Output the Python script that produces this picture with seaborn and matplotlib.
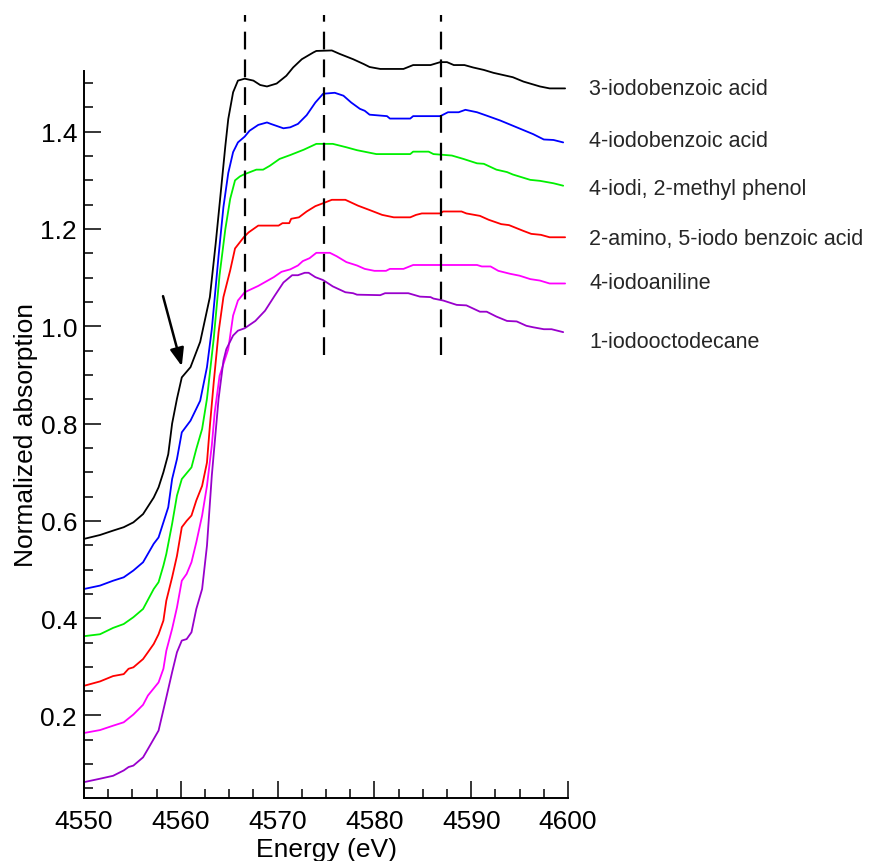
import matplotlib
matplotlib.use("Agg")
import matplotlib.pyplot as plt
from matplotlib.ticker import MultipleLocator
import numpy as np
import pandas as pd
import seaborn as sns

# ---- spectra (energy in eV, normalized absorption) ----
compounds = [
    "3-iodobenzoic acid",
    "4-iodobenzoic acid",
    "4-iodi, 2-methyl phenol",
    "2-amino, 5-iodo benzoic acid",
    "4-iodoaniline",
    "1-iodooctodecane",
]
colors = ["#000000", "#0000FF", "#00F000", "#FF0000", "#FF00FF", "#9900CC"]

e_3iba = [4550.0, 4551.65, 4553.0, 4554.1, 4555.1, 4556.1, 4557.2, 4557.7, 4558.2, 4558.7,
          4559.1, 4559.6, 4560.1, 4561.0, 4562.0, 4563.0, 4563.6, 4564.0, 4564.6, 4564.9,
          4565.4, 4565.9, 4566.6, 4567.5, 4568.2, 4568.9, 4569.9, 4570.9, 4571.6, 4572.5,
          4573.7, 4574.0, 4575.6, 4576.4, 4577.8, 4578.9, 4579.5, 4580.6, 4583.0, 4584.0,
          4585.8, 4586.8, 4587.5, 4588.2, 4589.3, 4590.2, 4591.3, 4592.3, 4594.3, 4595.4,
          4597.1, 4598.1, 4599.7]
a_3iba = [0.563, 0.571, 0.580, 0.587, 0.597, 0.614, 0.648, 0.669, 0.700, 0.737,
          0.800, 0.851, 0.895, 0.916, 0.968, 1.060, 1.170, 1.250, 1.371, 1.426,
          1.481, 1.505, 1.509, 1.505, 1.496, 1.493, 1.499, 1.515, 1.532, 1.549,
          1.563, 1.566, 1.567, 1.560, 1.549, 1.539, 1.533, 1.529, 1.529, 1.537,
          1.537, 1.543, 1.543, 1.537, 1.537, 1.532, 1.527, 1.521, 1.512, 1.503,
          1.493, 1.489, 1.489]

e_4iba = [4550.0, 4551.65, 4553.0, 4554.1, 4555.1, 4556.1, 4557.2, 4557.7, 4558.2, 4558.7,
          4559.1, 4559.6, 4560.1, 4561.0, 4562.0, 4562.7, 4563.2, 4563.9, 4564.4, 4564.9,
          4565.4, 4565.9, 4566.6, 4567.1, 4568.0, 4568.9, 4569.3, 4570.6, 4571.3, 4572.1,
          4573.0, 4573.9, 4574.7, 4575.9, 4576.8, 4577.6, 4578.5, 4579.0, 4579.5, 4581.3,
          4581.6, 4583.7, 4584.0, 4586.8, 4587.6, 4588.7, 4589.4, 4590.6, 4591.6, 4593.0,
          4594.7, 4596.4, 4597.5, 4598.5, 4599.5]
a_4iba = [0.460, 0.467, 0.477, 0.484, 0.498, 0.515, 0.553, 0.566, 0.597, 0.628,
          0.686, 0.727, 0.782, 0.806, 0.847, 0.916, 0.994, 1.145, 1.245, 1.315,
          1.358, 1.378, 1.390, 1.402, 1.414, 1.419, 1.416, 1.407, 1.409, 1.416,
          1.434, 1.460, 1.478, 1.480, 1.474, 1.460, 1.447, 1.443, 1.435, 1.432,
          1.427, 1.427, 1.432, 1.432, 1.440, 1.440, 1.445, 1.440, 1.433, 1.423,
          1.409, 1.395, 1.384, 1.383, 1.378]

e_imp = [4550.0, 4551.65, 4553.0, 4554.1, 4555.1, 4556.1, 4557.2, 4557.7, 4558.2, 4558.5,
         4559.1, 4559.6, 4560.1, 4561.1, 4561.6, 4562.2, 4562.7, 4563.4, 4564.0, 4564.6,
         4565.1, 4565.6, 4566.1, 4566.5, 4567.8, 4568.5, 4569.2, 4570.2, 4571.3, 4572.7,
         4574.0, 4575.7, 4577.1, 4578.2, 4579.2, 4580.2, 4583.7, 4584.0, 4585.6, 4586.1,
         4588.0, 4589.2, 4590.6, 4591.3, 4592.6, 4593.7, 4594.3, 4596.1, 4597.1, 4598.5,
         4599.5]
a_imp = [0.363, 0.367, 0.380, 0.388, 0.402, 0.419, 0.460, 0.474, 0.508, 0.532,
         0.594, 0.652, 0.686, 0.710, 0.748, 0.789, 0.851, 0.975, 1.105, 1.200,
         1.262, 1.300, 1.308, 1.312, 1.322, 1.322, 1.330, 1.344, 1.352, 1.363,
         1.375, 1.375, 1.368, 1.362, 1.358, 1.354, 1.354, 1.359, 1.359, 1.354,
         1.351, 1.344, 1.335, 1.334, 1.322, 1.317, 1.312, 1.301, 1.299, 1.294,
         1.289]

e_aiba = [4550.0, 4551.65, 4553.0, 4554.1, 4554.6, 4555.1, 4556.1, 4556.6, 4557.2, 4557.7,
          4558.2, 4558.5, 4559.1, 4559.6, 4560.1, 4560.6, 4561.1, 4561.6, 4562.2, 4562.7,
          4563.0, 4563.4, 4563.9, 4564.4, 4565.1, 4565.6, 4566.5, 4567.0, 4568.0, 4570.1,
          4570.5, 4571.2, 4571.4, 4572.2, 4573.0, 4573.9, 4574.7, 4575.6, 4577.0, 4578.3,
          4579.5, 4580.8, 4582.0, 4583.7, 4584.3, 4584.9, 4586.8, 4587.1, 4589.0, 4589.5,
          4590.9, 4591.8, 4593.1, 4593.9, 4595.4, 4596.2, 4597.2, 4598.1, 4599.7]
a_aiba = [0.261, 0.270, 0.281, 0.285, 0.296, 0.299, 0.316, 0.330, 0.347, 0.367,
          0.395, 0.436, 0.484, 0.528, 0.587, 0.600, 0.611, 0.642, 0.672, 0.720,
          0.795, 0.885, 0.988, 1.060, 1.115, 1.160, 1.183, 1.193, 1.207, 1.207,
          1.212, 1.212, 1.221, 1.224, 1.236, 1.247, 1.253, 1.260, 1.260, 1.248,
          1.239, 1.229, 1.224, 1.224, 1.229, 1.232, 1.232, 1.236, 1.236, 1.232,
          1.227, 1.219, 1.210, 1.208, 1.196, 1.190, 1.188, 1.183, 1.183]

e_ian = [4550.0, 4551.65, 4553.0, 4554.1, 4555.1, 4556.1, 4556.6, 4557.7, 4558.2, 4558.5,
         4559.1, 4559.6, 4560.1, 4560.6, 4561.1, 4561.6, 4562.2, 4562.7, 4563.2, 4563.5,
         4564.0, 4564.9, 4565.4, 4565.9, 4566.6, 4568.0, 4569.6, 4570.4, 4571.3, 4572.1,
         4572.6, 4573.3, 4574.0, 4575.4, 4576.1, 4577.1, 4578.2, 4579.0, 4580.0, 4581.2,
         4581.6, 4583.0, 4584.0, 4586.8, 4590.6, 4591.1, 4592.0, 4592.8, 4594.0, 4595.0,
         4596.1, 4597.1, 4598.1, 4599.7]
a_ian = [0.164, 0.170, 0.179, 0.186, 0.202, 0.222, 0.241, 0.268, 0.296, 0.333,
         0.378, 0.422, 0.477, 0.491, 0.515, 0.556, 0.611, 0.672, 0.755, 0.823,
         0.898, 0.953, 1.022, 1.053, 1.070, 1.083, 1.101, 1.112, 1.117, 1.125,
         1.134, 1.140, 1.151, 1.151, 1.144, 1.132, 1.125, 1.118, 1.114, 1.114,
         1.118, 1.118, 1.126, 1.126, 1.126, 1.123, 1.123, 1.114, 1.108, 1.104,
         1.097, 1.094, 1.088, 1.088]

e_iod = [4550.0, 4551.65, 4553.0, 4554.1, 4554.6, 4555.1, 4556.1, 4556.6, 4557.7, 4558.5,
         4559.1, 4559.6, 4560.1, 4560.6, 4561.1, 4561.6, 4562.2, 4562.7, 4563.2, 4563.9,
         4564.4, 4564.7, 4565.4, 4565.9, 4566.6, 4567.7, 4568.7, 4569.7, 4570.6, 4571.5,
         4572.1, 4572.8, 4573.2, 4573.9, 4574.7, 4575.7, 4577.0, 4577.8, 4578.2, 4580.6,
         4581.1, 4583.5, 4584.7, 4585.8, 4586.1, 4587.1, 4588.5, 4589.5, 4590.9, 4591.6,
         4592.6, 4593.7, 4594.7, 4595.7, 4596.4, 4597.5, 4598.3, 4599.5]
a_iod = [0.063, 0.070, 0.076, 0.087, 0.094, 0.097, 0.114, 0.131, 0.169, 0.237,
         0.289, 0.330, 0.354, 0.357, 0.371, 0.419, 0.460, 0.549, 0.693, 0.851,
         0.929, 0.953, 0.981, 0.991, 0.996, 1.011, 1.032, 1.063, 1.090, 1.105,
         1.105, 1.110, 1.110, 1.101, 1.095, 1.082, 1.070, 1.068, 1.065, 1.064,
         1.068, 1.068, 1.061, 1.060, 1.057, 1.053, 1.044, 1.043, 1.030, 1.030,
         1.020, 1.011, 1.010, 1.001, 0.998, 0.994, 0.994, 0.988]

energies = [e_3iba, e_4iba, e_imp, e_aiba, e_ian, e_iod]
absorptions = [a_3iba, a_4iba, a_imp, a_aiba, a_ian, a_iod]

# label anchor heights (absorption units) for the compound names at the right
label_y = [1.488, 1.381, 1.284, 1.181, 1.089, 0.968]

# reference energies marked with dashed lines
feature_energies = [4566.6, 4574.8, 4586.9]

frames = []
for name, e, a in zip(compounds, energies, absorptions):
    frames.append(pd.DataFrame({"energy": e, "absorption": a, "compound": name}))
df = pd.concat(frames, ignore_index=True)

sns.set_theme(style="ticks")
plt.rcParams["font.family"] = ["Liberation Sans", "DejaVu Sans"]

fig = plt.figure(figsize=(8.79, 8.62), dpi=100)
ax = fig.add_axes([0.0956, 0.0731, 0.5506, 0.8435])

sns.lineplot(data=df, x="energy", y="absorption", hue="compound",
             hue_order=compounds, palette=colors, estimator=None, sort=False,
             legend=False, linewidth=1.3, ax=ax)
# the top spectrum rises a little above the end of the left spine
for line in ax.lines:
    line.set_clip_on(False)

ax.set_xlim(4550, 4600)
ax.set_ylim(0.0304, 1.525)

for fe in feature_energies:
    ax.vlines(fe, 0.941, 1.640, colors="black", linewidth=1.6,
              linestyles=(0, (8, 4.5)), clip_on=False, zorder=3)

for name, yv in zip(compounds, label_y):
    ax.text(4602.2, yv, name, fontsize=15.5, va="center", ha="left", clip_on=False)

ax.annotate("", xy=(4560.1, 0.918), xytext=(4558.16, 1.062),
            arrowprops=dict(arrowstyle="-|>,head_length=0.9,head_width=0.35",
                            color="black", lw=1.8, shrinkA=0, shrinkB=0))

ax.xaxis.set_major_locator(MultipleLocator(10))
ax.xaxis.set_minor_locator(MultipleLocator(2.5))
ax.yaxis.set_major_locator(MultipleLocator(0.2))
ax.yaxis.set_minor_locator(MultipleLocator(0.05))

ax.tick_params(which="major", direction="in", length=12, width=1.1,
               labelsize=19, color="black", labelcolor="black")
ax.tick_params(which="minor", direction="in", length=6.5, width=1.1, color="black")
ax.tick_params(axis="y", which="major", pad=5)
ax.tick_params(axis="x", which="major", pad=8)

sns.despine(ax=ax)
for side in ("left", "bottom"):
    ax.spines[side].set_linewidth(1.4)
    ax.spines[side].set_color("black")

ax.set_xlabel("Energy (eV)", fontsize=19, labelpad=2.5, color="black")
ax.set_ylabel("Normalized absorption", fontsize=19, labelpad=2, color="black")

fig.savefig("out.png", dpi=100)
